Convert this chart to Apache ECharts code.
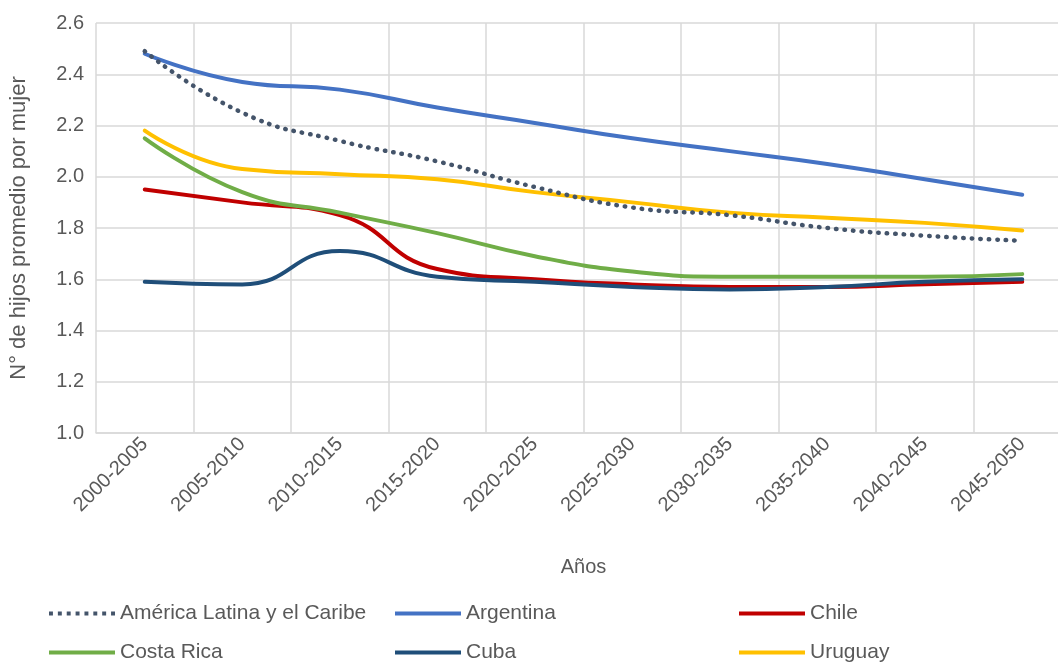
<!DOCTYPE html>
<html>
<head>
<meta charset="utf-8">
<script src="https://cdn.jsdelivr.net/npm/echarts@6/dist/echarts.min.js"></script>
<style>
  html, body { margin: 0; padding: 0; background: #fff; }
  #chart { width: 1058px; height: 662px; }
</style>
</head>
<body>
<div id="chart"></div>
<script>
const periods = ['2000-2005', '2005-2010', '2010-2015', '2015-2020', '2020-2025',
  '2025-2030', '2030-2035', '2035-2040', '2040-2045', '2045-2050'];

const americaLatina = [2.49, 2.25, 2.14, 2.06, 1.96, 1.88, 1.85, 1.80, 1.77, 1.75];
const argentina = [2.48, 2.37, 2.34, 2.27, 2.21, 2.15, 2.10, 2.05, 1.99, 1.93];
const chile = [1.95, 1.90, 1.85, 1.64, 1.60, 1.58, 1.57, 1.57, 1.58, 1.59];
const costaRica = [2.15, 1.94, 1.86, 1.78, 1.69, 1.63, 1.61, 1.61, 1.61, 1.62];
const cuba = [1.59, 1.58, 1.71, 1.61, 1.59, 1.57, 1.56, 1.57, 1.59, 1.60];
const uruguay = [2.18, 2.03, 2.01, 1.99, 1.94, 1.90, 1.86, 1.84, 1.82, 1.79];

const FONT = '"Liberation Sans", Arial, sans-serif';
const TXT = '#595959';
const GRID = '#D9D9D9';

// dotted legend icon: a row of small dots
const DOTS = 'path://' + [0, 9, 18, 27, 36, 45, 54, 63]
  .map(x => 'M' + x + ',0h4v4h-4z').join(' ');

function line(name, data, color, extra) {
  return Object.assign({
    name,
    type: 'line',
    data,
    smooth: 0.5,
    symbol: 'none',
    lineStyle: { color, width: 4, cap: 'round' },
    itemStyle: { color },
  }, extra || {});
}

// one legend per entry so the columns line up like the original
function legendItem(name, left, top, icon) {
  return {
    left,
    top,
    data: [{ name, icon: icon || 'rect' }],
    itemWidth: 66,
    itemHeight: 4,
    textStyle: { color: TXT, fontSize: 21, fontFamily: FONT },
  };
}

const chart = echarts.init(document.getElementById('chart'), null, { renderer: 'canvas' });

chart.setOption({
  animation: false,
  // the plot runs a little past the right edge of the picture
  grid: { left: 96, width: 975, top: 23, bottom: 229, outerBoundsMode: 'none' },
  legend: [
    legendItem('América Latina y el Caribe', 44, 598, DOTS),
    legendItem('Argentina', 390, 598),
    legendItem('Chile', 734, 598),
    legendItem('Costa Rica', 44, 637),
    legendItem('Cuba', 390, 637),
    legendItem('Uruguay', 734, 637),
  ],
  xAxis: {
    type: 'category',
    data: periods,
    boundaryGap: true,
    name: 'Años',
    nameLocation: 'middle',
    nameGap: 124,
    nameTextStyle: { color: TXT, fontSize: 20, fontFamily: FONT },
    axisLine: { lineStyle: { color: GRID, width: 1.5 } },
    axisTick: { show: false },
    axisLabel: { rotate: 45, margin: 8, color: TXT, fontSize: 20, fontFamily: FONT },
    splitLine: { show: true, lineStyle: { color: GRID, width: 1.5 } },
  },
  yAxis: {
    type: 'value',
    min: 1,
    max: 2.6,
    interval: 0.2,
    name: 'N° de hijos promedio por mujer',
    nameLocation: 'middle',
    nameGap: 66,
    nameTextStyle: { color: TXT, fontSize: 22, fontFamily: FONT },
    axisLine: { show: false },
    axisTick: { show: false },
    axisLabel: {
      margin: 12,
      color: TXT,
      fontSize: 20,
      fontFamily: FONT,
      formatter: v => v.toFixed(1),
    },
    splitLine: { lineStyle: { color: GRID, width: 1.5 } },
  },
  series: [
    line('América Latina y el Caribe', americaLatina, '#44546A', {
      z: 5,
      lineStyle: { color: '#44546A', width: 4.5, type: [0.5, 8], cap: 'round' },
    }),
    line('Argentina', argentina, '#4472C4'),
    line('Chile', chile, '#C00000'),
    line('Costa Rica', costaRica, '#70AD47'),
    line('Cuba', cuba, '#1F4E79'),
    line('Uruguay', uruguay, '#FFC000'),
  ],
});
</script>
</body>
</html>
